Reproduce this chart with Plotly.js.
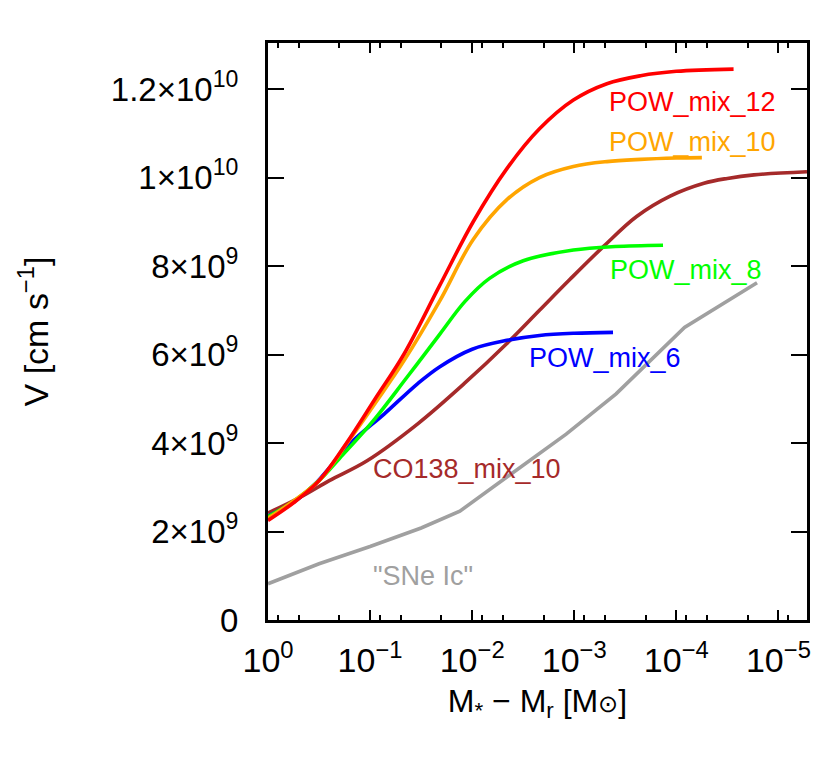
<!DOCTYPE html>
<html>
<head>
<meta charset="utf-8">
<script src="https://cdn.plot.ly/plotly-3.0.1.min.js"></script>
<style>
  body { margin: 0; background: #fff; }
  #chart { width: 830px; height: 775px; }
</style>
</head>
<body>
<div id="chart"></div>
<script>
// mass coordinate M* - Mr [Msun] and velocity [cm/s]
var pow12X = [1, 0.562, 0.316, 0.170, 0.0891, 0.0468, 0.0209, 0.00977, 0.00457, 0.00219, 0.00102, 4.79e-4, 2.24e-4, 1e-4, 2.75e-5];
var pow12V = [2.25e9, 2.65e9, 3.15e9, 4.0e9, 5.0e9, 6.0e9, 7.55e9, 9.0e9, 10.2e9, 11.1e9, 11.75e9, 12.12e9, 12.3e9, 12.4e9, 12.45e9];

var pow10X = [1, 0.316, 0.170, 0.0891, 0.0468, 0.0209, 0.00977, 0.00457, 0.00219, 0.00102, 4.79e-4, 2.24e-4, 1e-4, 5.62e-5];
var pow10V = [2.3e9, 3.15e9, 3.98e9, 4.9e9, 5.85e9, 7.2e9, 8.6e9, 9.5e9, 10.0e9, 10.25e9, 10.36e9, 10.41e9, 10.44e9, 10.45e9];

var pow8X = [1, 0.562, 0.316, 0.1995, 0.0933, 0.0437, 0.0209, 0.01175, 0.00676, 0.00316, 0.00102, 3.98e-4, 1.35e-4];
var pow8V = [2.34e9, 2.68e9, 3.15e9, 3.65e9, 4.5e9, 5.48e9, 6.45e9, 7.2e9, 7.72e9, 8.12e9, 8.36e9, 8.44e9, 8.47e9];

var pow6X = [1, 0.562, 0.331, 0.155, 0.0724, 0.0339, 0.0209, 0.01, 0.00457, 0.00219, 0.001, 4.17e-4];
var pow6V = [2.35e9, 2.66e9, 3.12e9, 4.0e9, 4.66e9, 5.35e9, 5.72e9, 6.12e9, 6.32e9, 6.43e9, 6.48e9, 6.5e9];

var co138X = [1, 0.479, 0.251, 0.107, 0.0339, 0.012, 0.00457, 0.00219, 0.0011, 5.13e-4, 2.45e-4, 1.15e-4, 5.37e-5, 3.16e-5, 1.74e-5, 5.25e-6];
var co138V = [2.42e9, 2.78e9, 3.15e9, 3.6e9, 4.44e9, 5.34e9, 6.25e9, 7.0e9, 7.7e9, 8.45e9, 9.12e9, 9.58e9, 9.87e9, 9.98e9, 10.06e9, 10.13e9];

var sneX = [1, 0.316, 0.1, 0.0316, 0.0132, 0.00537, 0.0012, 3.89e-4, 1.45e-4, 8.32e-5, 1.62e-5];
var sneV = [0.82e9, 1.27e9, 1.66e9, 2.08e9, 2.46e9, 3.11e9, 4.2e9, 5.11e9, 6.07e9, 6.61e9, 7.62e9];

var yTickVals = [0, 2e9, 4e9, 6e9, 8e9, 1e10, 1.2e10];
var yTickText = ['0', '2×10<sup>9</sup>', '4×10<sup>9</sup>', '6×10<sup>9</sup>', '8×10<sup>9</sup>',
                 '1×10<sup>10</sup>', '1.2×10<sup>10</sup>'];
var xTickVals = [1, 1e-1, 1e-2, 1e-3, 1e-4, 1e-5];
var xTickText = ['10<sup>0</sup>', '10<sup>−1</sup>', '10<sup>−2</sup>', '10<sup>−3</sup>', '10<sup>−4</sup>', '10<sup>−5</sup>'];

// minor ticks sit at 8, 5 and 2 of each decade
var minorVals = [];
for (var d = 0; d <= 5; d++) {
  [8, 5, 2].forEach(function (m) { minorVals.push(m * Math.pow(10, -d - 1)); });
}

var font = 'Liberation Sans, Arial, sans-serif';

function curve(x, y, color, shape) {
  return {x: x, y: y, type: 'scatter', mode: 'lines',
          line: {color: color, width: 3.6, shape: shape || 'spline'}, hoverinfo: 'skip'};
}

var data = [
  curve(sneX, sneV, '#a0a0a0', 'linear'),
  curve(co138X, co138V, '#a52a2a'),
  curve(pow6X, pow6V, '#0000ff'),
  curve(pow8X, pow8V, '#00ff00'),
  curve(pow10X, pow10V, '#ffa500'),
  curve(pow12X, pow12V, '#ff0000')
];

function label(txt, lx, ly, color) {
  return {text: txt, x: lx, y: ly, xref: 'x', yref: 'y', xanchor: 'left', yanchor: 'middle',
          showarrow: false, font: {family: font, size: 27, color: color}};
}

var layout = {
  width: 830, height: 775,
  margin: {l: 268, r: 23, t: 43, b: 155},
  paper_bgcolor: '#fff', plot_bgcolor: '#fff',
  showlegend: false,
  font: {family: font, color: '#000'},
  xaxis: {
    type: 'log', range: [0, -5.28],
    tickvals: xTickVals, ticktext: xTickText,
    tickfont: {size: 34}, ticklabelstandoff: 8,
    ticks: 'inside', ticklen: 10, tickwidth: 2, tickcolor: '#000',
    minor: {tickvals: minorVals, ticks: 'inside', ticklen: 5, tickwidth: 2, tickcolor: '#000'},
    showline: true, linewidth: 3, linecolor: '#000', mirror: 'allticks',
    showgrid: false, zeroline: false,
    title: {text: 'M<sub>*</sub> − M<sub>r</sub> [M<span style="font-size:24px">⊙</span>]', font: {size: 32}, standoff: 12}
  },
  yaxis: {
    range: [0, 1.304e10],
    tickvals: yTickVals, ticktext: yTickText,
    tickfont: {size: 33}, ticklabelstandoff: 20,
    ticks: 'inside', ticklen: 16, tickwidth: 2, tickcolor: '#000',
    showline: true, linewidth: 3, linecolor: '#000', mirror: 'allticks',
    showgrid: false, zeroline: false,
    title: {text: 'V [cm s<sup>−1</sup>]', font: {size: 34}, standoff: 52}
  },
  annotations: [
    label('POW_mix_12', -3.317, 11.71e9, '#ff0000'),
    label('POW_mix_10', -3.317, 10.81e9, '#ffa500'),
    label('POW_mix_8', -3.335, 7.9e9, '#00ff00'),
    label('POW_mix_6', -2.533, 5.91e9, '#0000ff'),
    label('CO138_mix_10', -1.011, 3.42e9, '#a52a2a'),
    label('"SNe Ic"', -1.011, 1.0e9, '#a0a0a0')
  ]
};

Plotly.newPlot('chart', data, layout, {displayModeBar: false, staticPlot: true});
</script>
</body>
</html>
